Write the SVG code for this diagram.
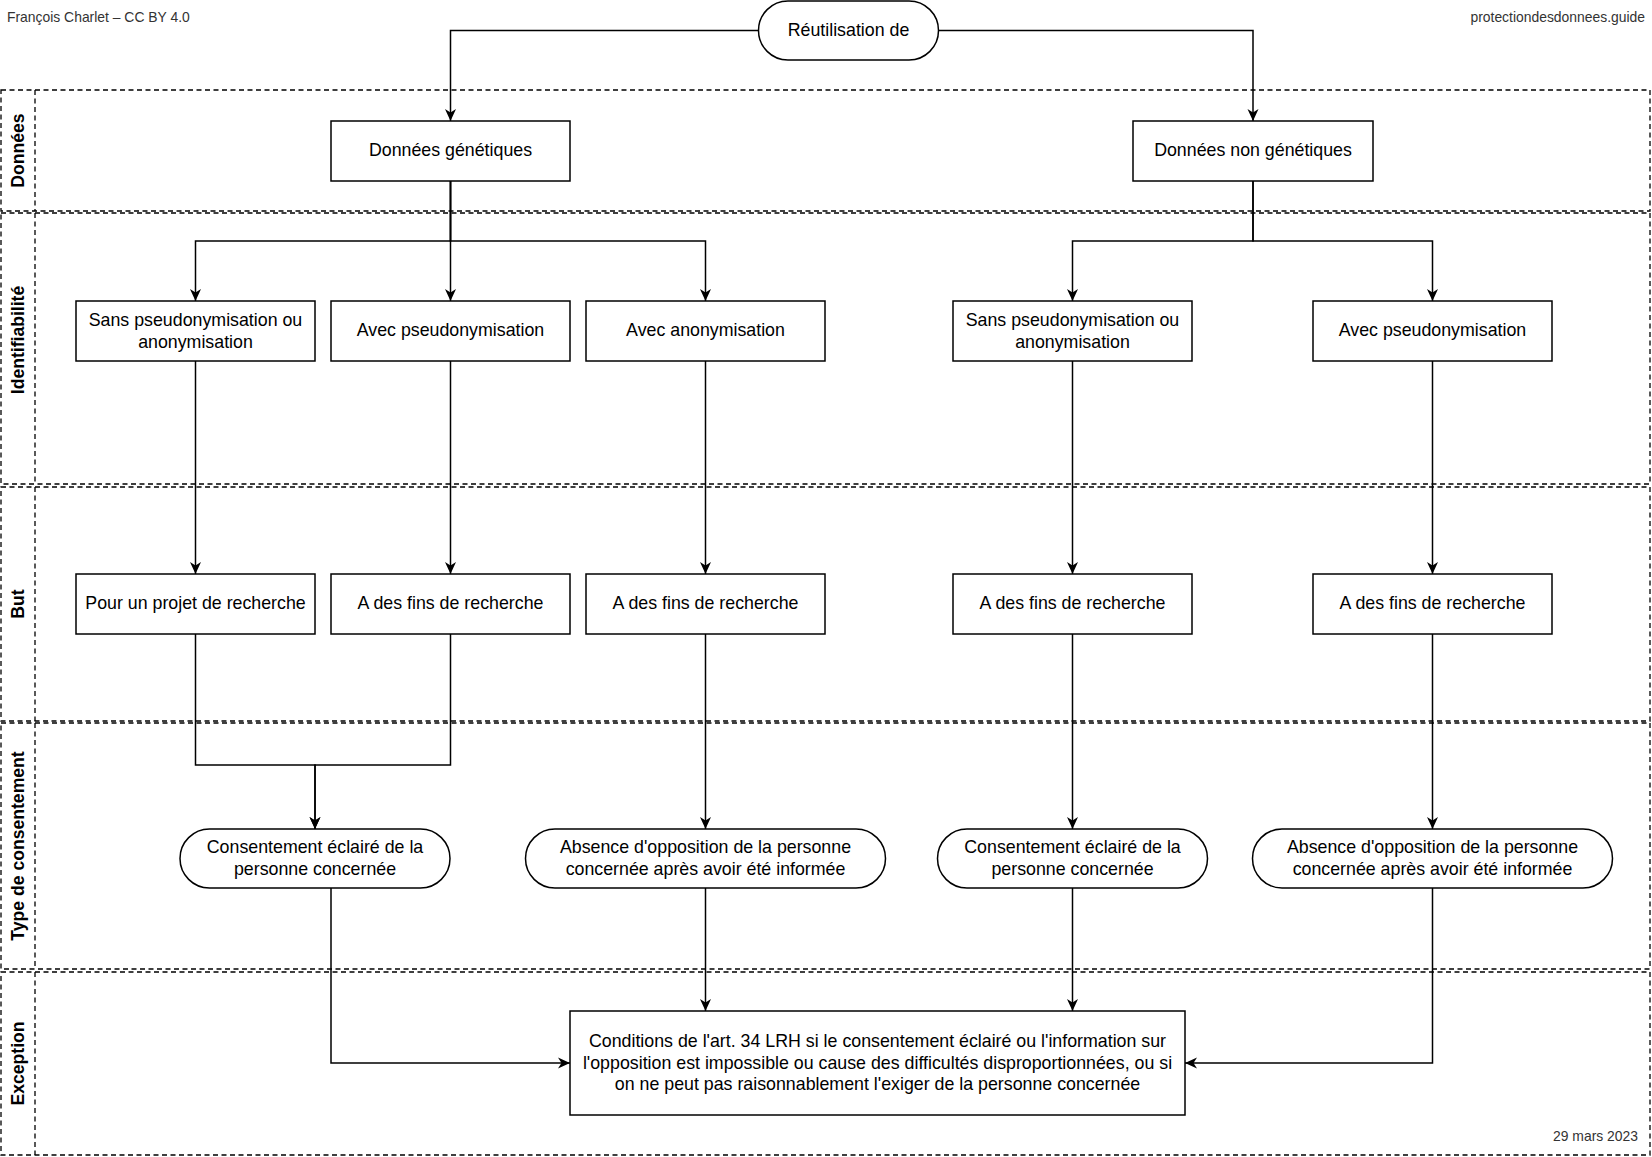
<svg xmlns="http://www.w3.org/2000/svg" width="1652" height="1157" viewBox="0 0 1652 1157">
<defs>
<style>
.lane{fill:none;stroke:#000;stroke-width:1.3;stroke-dasharray:5 3.5}
.lt{font-family:"Liberation Sans",Arial,Helvetica,sans-serif;font-size:17.6px;font-weight:bold;fill:#000;text-anchor:middle}
.box{fill:#fff;stroke:#000;stroke-width:1.5}
.t{font-family:"Liberation Sans",Arial,Helvetica,sans-serif;font-size:17.8px;fill:#000;text-anchor:middle}
.small{font-family:"Liberation Sans",Arial,Helvetica,sans-serif;font-size:13.9px;fill:#333}
.edge{fill:none;stroke:#000;stroke-width:1.5;marker-end:url(#arr)}
</style>
<marker id="arr" markerUnits="userSpaceOnUse" markerWidth="13" markerHeight="12" refX="12" refY="6" orient="auto" viewBox="0 0 13 12">
<path d="M0,0.5 L12,6 L0,11.5 L3.5,6 Z" fill="#000"/>
</marker>
</defs>
<rect width="1652" height="1157" fill="#fff"/>

<g id="lanes">
<g id="lane-donnees">
<rect class="lane" x="1" y="90" width="1649" height="121"/>
<line class="lane" x1="35" y1="90" x2="35" y2="211"/>
<text class="lt" transform="translate(18,150.5) rotate(-90)" dy="0.35em">Données</text>
</g>
<g id="lane-identifiabilite">
<rect class="lane" x="1" y="213" width="1649" height="271"/>
<line class="lane" x1="35" y1="213" x2="35" y2="484"/>
<text class="lt" transform="translate(18,340) rotate(-90)" dy="0.35em">Identifiabilité</text>
</g>
<g id="lane-but">
<rect class="lane" x="1" y="487" width="1649" height="234"/>
<line class="lane" x1="35" y1="487" x2="35" y2="721"/>
<text class="lt" transform="translate(18,604) rotate(-90)" dy="0.35em">But</text>
</g>
<g id="lane-type">
<rect class="lane" x="1" y="723" width="1649" height="246"/>
<line class="lane" x1="35" y1="723" x2="35" y2="969"/>
<text class="lt" transform="translate(18,846) rotate(-90)" dy="0.35em">Type de consentement</text>
</g>
<g id="lane-exception">
<rect class="lane" x="1" y="972" width="1649" height="183"/>
<line class="lane" x1="35" y1="972" x2="35" y2="1155"/>
<text class="lt" transform="translate(18,1063.5) rotate(-90)" dy="0.35em">Exception</text>
</g>
</g>

<g id="header">
<text class="small" x="7" y="22">François Charlet – CC BY 4.0</text>
<text class="small" x="1645" y="22" text-anchor="end">protectiondesdonnees.guide</text>
<text class="small" x="1638" y="1141" text-anchor="end">29 mars 2023</text>
</g>

<g id="connectors">
<path class="edge" d="M758.5,30.5 H450.5 V121"/>
<path class="edge" d="M938.5,30.5 H1253 V121"/>
<path class="edge" d="M450.5,181 V241 H195.5 V301"/>
<path class="edge" d="M450.5,181 V301"/>
<path class="edge" d="M450.5,181 V241 H705.5 V301"/>
<path class="edge" d="M1253,181 V241 H1072.5 V301"/>
<path class="edge" d="M1253,181 V241 H1432.5 V301"/>
<path class="edge" d="M195.5,361 V574"/>
<path class="edge" d="M450.5,361 V574"/>
<path class="edge" d="M705.5,361 V574"/>
<path class="edge" d="M1072.5,361 V574"/>
<path class="edge" d="M1432.5,361 V574"/>
<path class="edge" d="M195.5,634 V765 H315 V829"/>
<path class="edge" d="M450.5,634 V765 H315 V829"/>
<path class="edge" d="M705.5,634 V829"/>
<path class="edge" d="M1072.5,634 V829"/>
<path class="edge" d="M1432.5,634 V829"/>
<path class="edge" d="M331,888 V1063 H570"/>
<path class="edge" d="M705.5,888 V1011"/>
<path class="edge" d="M1072.5,888 V1011"/>
<path class="edge" d="M1432.5,888 V1063 H1185"/>
</g>

<g id="n-reutilisation">
<rect class="box" x="758.5" y="1" width="180" height="59" rx="29.5"/>
<text class="t" x="848.5" y="29.5" dy="0.35em">Réutilisation de</text>
</g>
<g id="n-genetiques">
<rect class="box" x="331" y="121" width="239" height="60"/>
<text class="t" x="450.5" y="150" dy="0.35em">Données génétiques</text>
</g>
<g id="n-non-genetiques">
<rect class="box" x="1133" y="121" width="240" height="60"/>
<text class="t" x="1253" y="150" dy="0.35em">Données non génétiques</text>
</g>

<g id="n-sans-1">
<rect class="box" x="76" y="301" width="239" height="60"/>
<text class="t" x="195.5" y="319.5" dy="0.35em">Sans pseudonymisation ou</text>
<text class="t" x="195.5" y="341.5" dy="0.35em">anonymisation</text>
</g>
<g id="n-avec-pseudo-1">
<rect class="box" x="331" y="301" width="239" height="60"/>
<text class="t" x="450.5" y="330" dy="0.35em">Avec pseudonymisation</text>
</g>
<g id="n-avec-anon">
<rect class="box" x="586" y="301" width="239" height="60"/>
<text class="t" x="705.5" y="330" dy="0.35em">Avec anonymisation</text>
</g>
<g id="n-sans-2">
<rect class="box" x="953" y="301" width="239" height="60"/>
<text class="t" x="1072.5" y="319.5" dy="0.35em">Sans pseudonymisation ou</text>
<text class="t" x="1072.5" y="341.5" dy="0.35em">anonymisation</text>
</g>
<g id="n-avec-pseudo-2">
<rect class="box" x="1313" y="301" width="239" height="60"/>
<text class="t" x="1432.5" y="330" dy="0.35em">Avec pseudonymisation</text>
</g>

<g id="n-projet">
<rect class="box" x="76" y="574" width="239" height="60"/>
<text class="t" x="195.5" y="603" dy="0.35em">Pour un projet de recherche</text>
</g>
<g id="n-fins-1">
<rect class="box" x="331" y="574" width="239" height="60"/>
<text class="t" x="450.5" y="603" dy="0.35em">A des fins de recherche</text>
</g>
<g id="n-fins-2">
<rect class="box" x="586" y="574" width="239" height="60"/>
<text class="t" x="705.5" y="603" dy="0.35em">A des fins de recherche</text>
</g>
<g id="n-fins-3">
<rect class="box" x="953" y="574" width="239" height="60"/>
<text class="t" x="1072.5" y="603" dy="0.35em">A des fins de recherche</text>
</g>
<g id="n-fins-4">
<rect class="box" x="1313" y="574" width="239" height="60"/>
<text class="t" x="1432.5" y="603" dy="0.35em">A des fins de recherche</text>
</g>

<g id="n-consent-1">
<rect class="box" x="180" y="829" width="270" height="59" rx="29.5"/>
<text class="t" x="315" y="847" dy="0.35em">Consentement éclairé de la</text>
<text class="t" x="315" y="869" dy="0.35em">personne concernée</text>
</g>
<g id="n-absence-1">
<rect class="box" x="525.5" y="829" width="360" height="59" rx="29.5"/>
<text class="t" x="705.5" y="847" dy="0.35em">Absence d'opposition de la personne</text>
<text class="t" x="705.5" y="869" dy="0.35em">concernée après avoir été informée</text>
</g>
<g id="n-consent-2">
<rect class="box" x="937.5" y="829" width="270" height="59" rx="29.5"/>
<text class="t" x="1072.5" y="847" dy="0.35em">Consentement éclairé de la</text>
<text class="t" x="1072.5" y="869" dy="0.35em">personne concernée</text>
</g>
<g id="n-absence-2">
<rect class="box" x="1252.5" y="829" width="360" height="59" rx="29.5"/>
<text class="t" x="1432.5" y="847" dy="0.35em">Absence d'opposition de la personne</text>
<text class="t" x="1432.5" y="869" dy="0.35em">concernée après avoir été informée</text>
</g>

<g id="n-conditions">
<rect class="box" x="570" y="1011" width="615" height="104"/>
<text class="t" x="877.5" y="1041" dy="0.35em">Conditions de l'art. 34 LRH si le consentement éclairé ou l'information sur</text>
<text class="t" x="877.5" y="1062.5" dy="0.35em">l'opposition est impossible ou cause des difficultés disproportionnées, ou si</text>
<text class="t" x="877.5" y="1084" dy="0.35em">on ne peut pas raisonnablement l'exiger de la personne concernée</text>
</g>
</svg>
